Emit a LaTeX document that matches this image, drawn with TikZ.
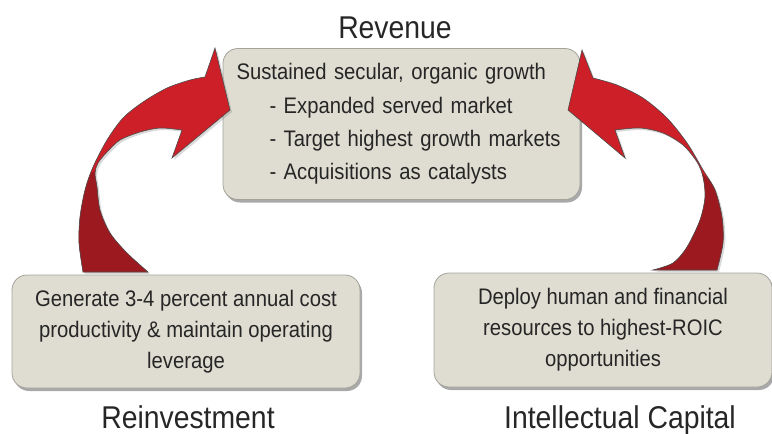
\documentclass[tikz,border=0pt]{standalone}
\usepackage{fontspec}
\setmainfont{Liberation Sans}[FakeStretch=0.9]
\usetikzlibrary{shadows}

\definecolor{boxfill}{HTML}{DFDDD1}
\definecolor{boxline}{HTML}{A3A39C}
\definecolor{arrred}{HTML}{CC1F27}
\definecolor{arrdark}{HTML}{9C1A1F}
\definecolor{txt}{HTML}{262626}

\begin{document}
\begin{tikzpicture}[x=1pt,y=-1pt,
    stagebox/.style={draw=boxline, line width=0.8pt, fill=boxfill, rounded corners=15pt,
      drop shadow={shadow xshift=2pt, shadow yshift=-3pt, opacity=.45, fill=black!75},
      text=txt, inner sep=0pt},
    stagelabel/.style={font=\fontsize{31.5}{36}\selectfont, text=black!85, anchor=base},
    arrline/.style={draw=black!70, line width=0.6pt}]
  \useasboundingbox (0,0) rectangle (772,434);
  % boxes
  \node (revbox) at (401.5,124) [stagebox, minimum width=357pt, minimum height=151pt,
      text width=330pt, align=left, font=\fontsize{22.5}{33.3}\selectfont]
    {Sustained secular, organic growth\\
     \hspace*{33pt}- Expanded served market\\
     \hspace*{33pt}- Target highest growth markets\\
     \hspace*{33pt}- Acquisitions as catalysts};
  \node (reinbox) at (186,331.5) [stagebox, minimum width=348pt, minimum height=113pt,
      align=center, font=\fontsize{22.5}{31}\selectfont]
    {Generate 3-4 percent annual cost\\productivity \& maintain operating\\leverage};
  \node (icbox) at (603,330) [stagebox, minimum width=338pt, minimum height=114pt,
      align=center, font=\fontsize{22.5}{31}\selectfont]
    {Deploy human and financial\\resources to highest-ROIC\\opportunities};
  % captions
  \node (rev) at (395,38) [stagelabel] {Revenue};
  \node (rein) at (188,428) [stagelabel] {Reinvestment};
  \node (ic) at (620,428) [stagelabel] {Intellectual Capital};
  % left arrow
  \path[save path=\reinpath, fill=arrred,
      drop shadow={shadow xshift=2pt, shadow yshift=-2pt, opacity=.3}]
    plot[smooth] coordinates {(83,272) (79,243) (80,217) (85,190) (93,167) (107,140)
      (123,118) (143,102) (167,88) (190,80) (205,77)}
    -- (215,48) -- (230,110) -- (172,158)
    -- plot[smooth] coordinates {(182,130) (160,128) (140,132) (120,140) (107,152)
      (98,163) (95,173) (97,187) (100,210) (110,233) (127,253) (148,272)}
    -- cycle;
  \begin{scope}
    \clip[use path=\reinpath];
    \fill[arrdark] (84,178) -- (104,165) -- (200,300) -- (30,300) -- cycle;
  \end{scope}
  \path[use path=\reinpath, arrline];
  % right arrow
  \path[save path=\icpath, fill=arrred,
      drop shadow={shadow xshift=2pt, shadow yshift=-2pt, opacity=.3}]
    plot[smooth] coordinates {(717,270) (723,243) (722,217) (715,190) (703,170) (687,143)
      (667,118) (643,98) (617,85) (593,78)}
    -- (582,50) -- (568,110) -- (625,158)
    -- plot[smooth] coordinates {(615,130) (640,128) (663,133) (683,145) (697,162)
      (703,177) (705,197) (700,220) (687,247) (673,263) (653,270)}
    -- cycle;
  \begin{scope}
    \clip[use path=\icpath];
    \fill[arrdark] (696,168) -- (714,184) -- (780,300) -- (620,300) -- cycle;
  \end{scope}
  \path[use path=\icpath, arrline];
\end{tikzpicture}
\end{document}
